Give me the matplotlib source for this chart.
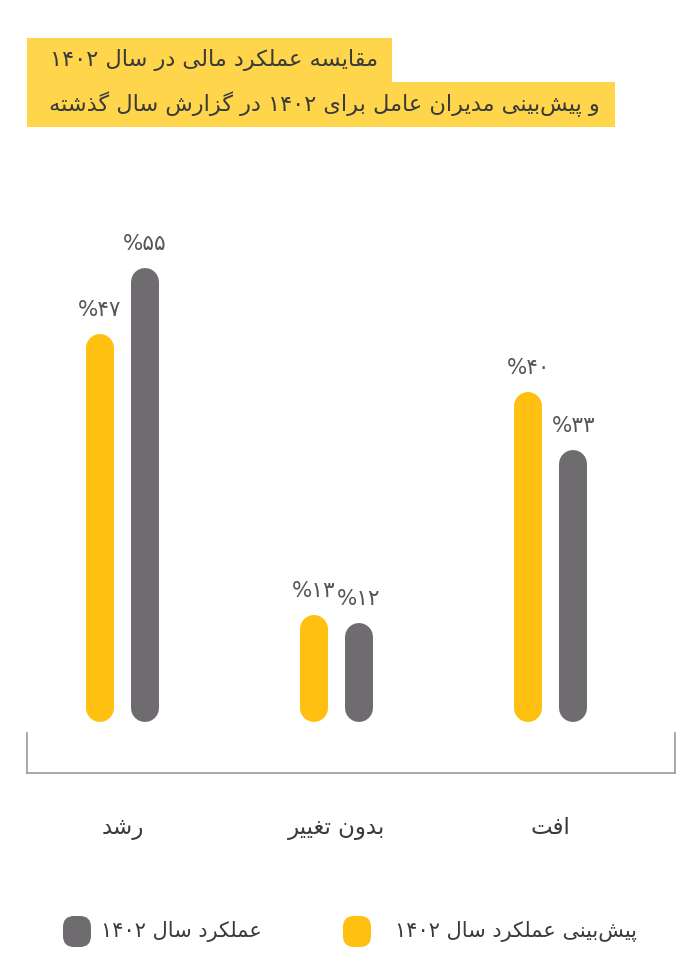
import re
import matplotlib
matplotlib.use("Agg")
import matplotlib.pyplot as plt
from matplotlib.patches import FancyBboxPatch, Rectangle

# داده‌ها
categories = ["رشد", "بدون تغییر", "افت"]
forecast_1402 = [47, 13, 40]   # پیش‌بینی عملکرد سال ۱۴۰۲
actual_1402 = [55, 12, 33]     # عملکرد سال ۱۴۰۲
series_names = ["پیش‌بینی عملکرد سال ۱۴۰۲", "عملکرد سال ۱۴۰۲"]
title_lines = ["مقایسه عملکرد مالی در سال ۱۴۰۲",
               "و پیش‌بینی مدیران عامل برای ۱۴۰۲ در گزارش سال گذشته"]

YELLOW = "#FFC011"
GRAY = "#6F6C6F"
BOX = "#FFD54C"
TEXT = "#3a3a3a"

# matplotlib حروف عربی/فارسی را شکل‌دهی نمی‌کند، پس دستی انجام می‌دهیم
# (isolated, final, initial, medial)
FORMS = {
    'ا': ('\uFE8D', '\uFE8E', None, None),
    'آ': ('\uFE81', '\uFE82', None, None),
    'ب': ('\uFE8F', '\uFE90', '\uFE91', '\uFE92'),
    'پ': ('\uFB56', '\uFB57', '\uFB58', '\uFB59'),
    'ت': ('\uFE95', '\uFE96', '\uFE97', '\uFE98'),
    'ث': ('\uFE99', '\uFE9A', '\uFE9B', '\uFE9C'),
    'ج': ('\uFE9D', '\uFE9E', '\uFE9F', '\uFEA0'),
    'چ': ('\uFB7A', '\uFB7B', '\uFB7C', '\uFB7D'),
    'ح': ('\uFEA1', '\uFEA2', '\uFEA3', '\uFEA4'),
    'خ': ('\uFEA5', '\uFEA6', '\uFEA7', '\uFEA8'),
    'د': ('\uFEA9', '\uFEAA', None, None),
    'ذ': ('\uFEAB', '\uFEAC', None, None),
    'ر': ('\uFEAD', '\uFEAE', None, None),
    'ز': ('\uFEAF', '\uFEB0', None, None),
    'ژ': ('\uFB8A', '\uFB8B', None, None),
    'س': ('\uFEB1', '\uFEB2', '\uFEB3', '\uFEB4'),
    'ش': ('\uFEB5', '\uFEB6', '\uFEB7', '\uFEB8'),
    'ص': ('\uFEB9', '\uFEBA', '\uFEBB', '\uFEBC'),
    'ض': ('\uFEBD', '\uFEBE', '\uFEBF', '\uFEC0'),
    'ط': ('\uFEC1', '\uFEC2', '\uFEC3', '\uFEC4'),
    'ظ': ('\uFEC5', '\uFEC6', '\uFEC7', '\uFEC8'),
    'ع': ('\uFEC9', '\uFECA', '\uFECB', '\uFECC'),
    'غ': ('\uFECD', '\uFECE', '\uFECF', '\uFED0'),
    'ف': ('\uFED1', '\uFED2', '\uFED3', '\uFED4'),
    'ق': ('\uFED5', '\uFED6', '\uFED7', '\uFED8'),
    'ک': ('\uFB8E', '\uFB8F', '\uFB90', '\uFB91'),
    'گ': ('\uFB92', '\uFB93', '\uFB94', '\uFB95'),
    'ل': ('\uFEDD', '\uFEDE', '\uFEDF', '\uFEE0'),
    'م': ('\uFEE1', '\uFEE2', '\uFEE3', '\uFEE4'),
    'ن': ('\uFEE5', '\uFEE6', '\uFEE7', '\uFEE8'),
    'و': ('\uFEED', '\uFEEE', None, None),
    'ه': ('\uFEE9', '\uFEEA', '\uFEEB', '\uFEEC'),
    'ی': ('\uFBFC', '\uFBFD', '\uFBFE', '\uFBFF'),
}


def fa(text):
    out = []
    for i, ch in enumerate(text):
        if ch not in FORMS:
            out.append(ch)
            continue
        prev = text[i - 1] if i > 0 else ''
        nxt = text[i + 1] if i + 1 < len(text) else ''
        jp = prev in FORMS and FORMS[prev][2] is not None
        jn = FORMS[ch][2] is not None and nxt in FORMS
        iso, fin, ini, med = FORMS[ch]
        out.append(med if jp and jn else fin if jp else ini if jn else iso)
    s = ''.join(out).replace('\u200c', '')
    parts = re.findall(r'[0-9\u06F0-\u06F9]+|[^0-9\u06F0-\u06F9]+', s)
    return ''.join(p if p[0].isdigit() else p[::-1] for p in reversed(parts))


def fa_num(n):
    return str(n).translate(str.maketrans('0123456789', '۰۱۲۳۴۵۶۷۸۹'))


plt.rcParams['font.family'] = ['DejaVu Sans']

W, H = 696, 965
fig = plt.figure(figsize=(W / 100, H / 100), dpi=100)

# محور اصلی
ax_left, ax_right, ax_top, ax_bottom = 27, 675, 200, 773
ax = fig.add_axes([ax_left / W, (H - ax_bottom) / H,
                   (ax_right - ax_left) / W, (ax_bottom - ax_top) / H])
ylo, yhi = -6.2, 63.3
ax.set_ylim(ylo, yhi)
ax.set_xlim(-0.445, 2.58)
ppu_y = (ax_bottom - ax_top) / (yhi - ylo)

bar_px = 28
r = (bar_px / 2) / ppu_y
off = 0.105
x = range(len(categories))
for xi, f, a in zip(x, forecast_1402, actual_1402):
    for dx, v, c in ((-off, f, YELLOW), (off, a, GRAY)):
        ax.plot([xi + dx, xi + dx], [r, v - r], color=c, lw=bar_px * 0.72,
                solid_capstyle='round')
        ax.text(xi + dx, v + 24 / ppu_y, '%' + fa_num(v), ha='center',
                va='center', fontsize=15.5, color='#555555')
    ax.text(xi, ylo - 55 / ppu_y, fa(categories[xi]), ha='center',
            va='center', fontsize=16.5, color=TEXT, clip_on=False)

ax.spines['top'].set_visible(False)
for side in ('left', 'right', 'bottom'):
    ax.spines[side].set_color('#9a9a9a')
    ax.spines[side].set_linewidth(1.2)
ax.spines['left'].set_bounds(ylo, ylo + 40 / ppu_y)
ax.spines['right'].set_bounds(ylo, ylo + 40 / ppu_y)
ax.set_xticks([])
ax.set_yticks([])
ax.patch.set_alpha(0)

# لایه‌ی عنوان و راهنما در مختصات پیکسلی
ov = fig.add_axes([0, 0, 1, 1], zorder=-1)
ov.set_xlim(0, W)
ov.set_ylim(H, 0)
ov.axis('off')

ov.add_patch(Rectangle((27, 38), 365, 45, color=BOX, lw=0))
ov.add_patch(Rectangle((27, 82), 588, 45, color=BOX, lw=0))
ov.text(378, 60, fa(title_lines[0]), ha='right', va='center',
        fontsize=16.2, color=TEXT)
ov.text(600, 104, fa(title_lines[1]), ha='right', va='center',
        fontsize=16.2, color=TEXT)

# راهنما
legend_items = [(343, 637, YELLOW, series_names[0]),
                (63, 262, GRAY, series_names[1])]
for mx, tx, c, name in legend_items:
    ov.add_patch(FancyBboxPatch((mx, 916), 28, 31,
                                boxstyle='round,pad=0,rounding_size=11',
                                color=c, lw=0))
    ov.text(tx, 931, fa(name), ha='right', va='center', fontsize=15,
            color=TEXT)

fig.savefig('out.png', dpi=100)
